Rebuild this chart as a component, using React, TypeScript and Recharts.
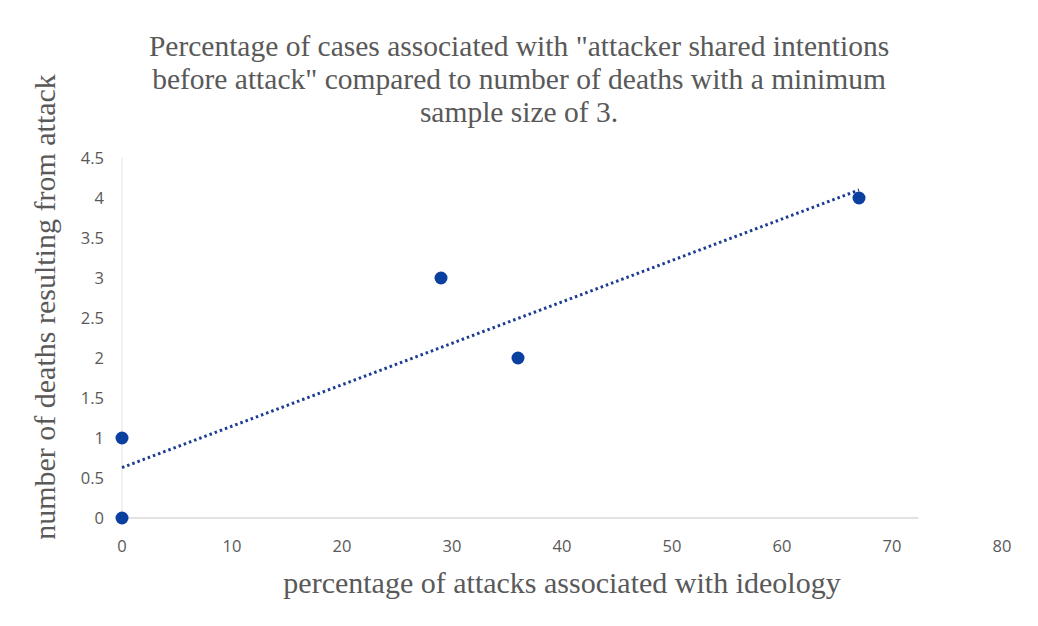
import React from "react";
import {
  ScatterChart,
  Scatter,
  XAxis,
  YAxis,
  ReferenceLine,
} from "recharts";

const ideologyPct = [0, 0, 29, 36, 67];
const deaths = [0, 1, 3, 2, 4];
// trendline ends
const trendX = [0, 67];
const trendY = [0.63, 4.1];
const xTicks = [0, 10, 20, 30, 40, 50, 60, 70, 80];
const yTicks = [0, 0.5, 1, 1.5, 2, 2.5, 3, 3.5, 4, 4.5];
const titleLines = [
  'Percentage of cases associated with "attacker shared intentions',
  'before attack" compared to number of deaths with a minimum',
  "sample size of 3.",
];

const points = ideologyPct.map((x, i) => ({ x, y: deaths[i] }));
const trend = trendX.map((x, i) => ({ x, y: trendY[i] }));

const SERIF = '"Liberation Serif", "Times New Roman", serif';
const SANS = '"Open Sans", "Noto Sans", sans-serif';
const TEXT = "#595959";
const DOT = "#0b3fa0";

export default function App() {
  return (
    <div style={{ position: "absolute", left: 0, top: 0, width: 1038, height: 626, background: "#fff" }}>
      <ScatterChart
        width={1038}
        height={626}
        margin={{ top: 158, right: 36, bottom: 60, left: 20 }}
      >
        <XAxis
          type="number"
          dataKey="x"
          domain={[0, 80]}
          ticks={xTicks}
          axisLine={false}
          tickLine={false}
          tickSize={0}
          tickMargin={22}
          tick={{ fill: TEXT, fontSize: 16.5, fontFamily: SANS }}
          height={48}
          label={{
            content: ({ viewBox }: any) => (
              <text
                x={viewBox.x + viewBox.width / 2}
                y={586}
                textAnchor="middle"
                dominantBaseline="middle"
                fill={TEXT}
                style={{ fontFamily: SERIF, fontSize: 30 }}
              >
                percentage of attacks associated with ideology
              </text>
            ),
          }}
        />
        <YAxis
          type="number"
          dataKey="y"
          domain={[0, 4.5]}
          ticks={yTicks}
          axisLine={{ stroke: "#e3e3e3" }}
          tickLine={false}
          tickSize={0}
          tickMargin={18}
          width={102}
          tick={{ fill: TEXT, fontSize: 16.5, fontFamily: SANS }}
          label={{
            content: () => (
              <text
                x={48}
                y={307}
                transform="rotate(-90 48 307)"
                textAnchor="middle"
                dominantBaseline="middle"
                fill={TEXT}
                style={{ fontFamily: SERIF, fontSize: 30 }}
              >
                number of deaths resulting from attack
              </text>
            ),
          }}
        />
        <ReferenceLine
          segment={[{ x: 0, y: 0 }, { x: 72.4, y: 0 }]}
          stroke="#d9d9d9"
          strokeWidth={1.5}
        />
        <Scatter
          data={trend}
          line={{ stroke: "#1c3c94", strokeWidth: 3, strokeDasharray: "2.5 3" }}
          shape={() => <g />}
          isAnimationActive={false}
        />
        <Scatter data={points} fill={DOT} shape={(p: any) => <circle cx={p.cx} cy={p.cy} r={6.5} fill={DOT} />} isAnimationActive={false} />
      </ScatterChart>
      <div
        style={{
          position: "absolute",
          left: 0,
          top: 30,
          width: 1038,
          textAlign: "center",
          fontFamily: SERIF,
          fontSize: 29.5,
          lineHeight: "33px",
          color: TEXT,
        }}
      >
        {titleLines.map((t) => (
          <div key={t}>{t}</div>
        ))}
      </div>
    </div>
  );
}
